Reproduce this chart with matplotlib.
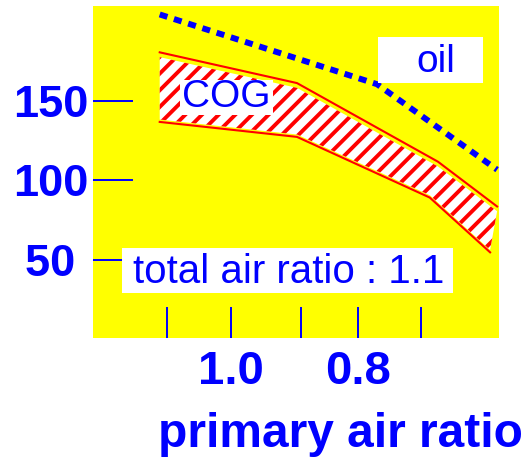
import numpy as np
import matplotlib
matplotlib.use("Agg")
import matplotlib.pyplot as plt
from matplotlib.patches import Rectangle

# ---- data ----
oil_x = [1.112, 0.770, 0.581]
oil_y = [204.2, 160.4, 106.7]

cog_upper_x = [1.112, 0.896, 0.674, 0.581]
cog_upper_y = [180.4, 161.1, 111.7, 83.6]
cog_lower_x = [1.112, 0.896, 0.687, 0.592]
cog_lower_y = [136.7, 127.3, 89.2, 54.8]

x_ticks = [1.1, 1.0, 0.89, 0.8, 0.7]
x_ticklabels = ["", "1.0", "", "0.8", ""]
y_ticks = [50, 100, 150]
y_ticklabels = ["50 ", "100", "150"]

xlabel = "primary air ratio"
oil_label = "oil"
cog_label = "COG"
note = "total air ratio : 1.1"

BLUE = "#0000ff"
RED = "#ff0000"
FONT = ["Liberation Sans", "DejaVu Sans"]
plt.rcParams["font.family"] = FONT
plt.rcParams["hatch.linewidth"] = 2.8

fig = plt.figure(figsize=(5.22, 4.58), dpi=100)
fig.patch.set_facecolor("white")
ax = fig.add_axes([93/522, 1-338/458, 406/522, 332/458])
ax.set_facecolor("#ffff00")
for s in ax.spines.values():
    s.set_visible(False)

ax.set_xlim(1.217, 0.578)
ax.set_ylim(1, 209.5)

# COG hatched band
poly_x = np.r_[cog_upper_x, cog_lower_x[::-1]]
poly_y = np.r_[np.array(cog_upper_y) - 3, np.array(cog_lower_y[::-1]) + 1.5]
ax.fill(poly_x, poly_y, facecolor="white", edgecolor=RED, linewidth=0,
        hatch="//", zorder=2)
ax.plot(cog_upper_x, cog_upper_y, color=RED, lw=1.5, zorder=2.2)
ax.plot(cog_lower_x, cog_lower_y, color=RED, lw=1.5, zorder=2.2)

# oil dotted line
ax.plot(oil_x, oil_y, color=BLUE, lw=4.3, linestyle=(0, (1.35, 1.15)),
        dash_capstyle="butt", zorder=2.3)

# ticks
ax.set_xticks(x_ticks)
ax.set_xticklabels(x_ticklabels)
ax.set_yticks(y_ticks)
ax.set_yticklabels(y_ticklabels)
ax.tick_params(axis="y", direction="in", length=29, width=1.4, color=BLUE,
               labelcolor=BLUE, labelsize=32.5, pad=3.5)
ax.tick_params(axis="x", direction="in", length=22, width=1.4, color=BLUE,
               labelcolor=BLUE, labelsize=34, pad=9)
for lab in ax.get_xticklabels() + ax.get_yticklabels():
    lab.set_fontweight("bold")

ax.set_xlabel(xlabel, fontsize=34.5, fontweight="bold", color=BLUE,
              ha="left", va="baseline")
ax.xaxis.set_label_coords((158-93)/406, (338-447)/332)

# label boxes (axes fraction)
def box(x0, x1, y0, y1):
    ax.add_patch(Rectangle(((x0-93)/406, (338-y1)/332), (x1-x0)/406, (y1-y0)/332,
                           transform=ax.transAxes, facecolor="white",
                           edgecolor="none", zorder=3, clip_on=False))

box(378, 483, 37, 83)
ax.text((436-93)/406, (338-62)/332, oil_label, transform=ax.transAxes,
        ha="center", va="center", fontsize=28, color=BLUE, zorder=4)

box(180, 273, 80, 115)
ax.text((226-93)/406, (338-97)/332, cog_label, transform=ax.transAxes,
        ha="center", va="center", fontsize=28, color=BLUE, zorder=4)

box(122, 453, 248, 293)
ax.text((289-93)/406, (338-272)/332, note, transform=ax.transAxes,
        ha="center", va="center", fontsize=29, color=BLUE, zorder=4)

fig.savefig("out.png", dpi=100)
